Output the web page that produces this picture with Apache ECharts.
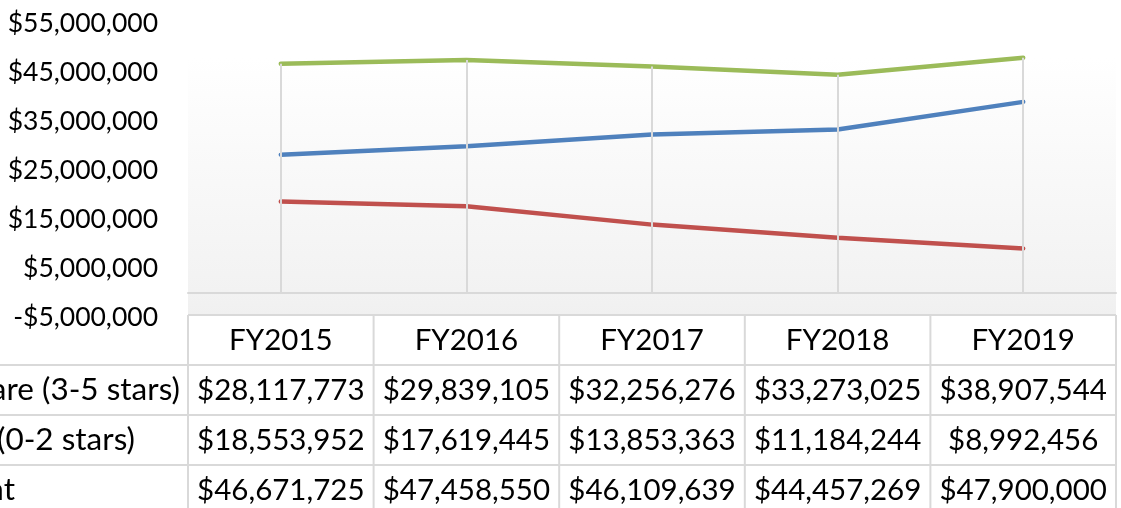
<!DOCTYPE html>
<html>
<head>
<meta charset="utf-8">
<script src="https://cdn.jsdelivr.net/npm/echarts@6/dist/echarts.min.js"></script>
<style>
  html, body { margin: 0; padding: 0; background: #fff; }
  #chart { width: 1121px; height: 508px; }
</style>
</head>
<body>
<div id="chart"></div>
<script>
var categories = ['FY2015', 'FY2016', 'FY2017', 'FY2018', 'FY2019'];
var seriesNames = ['Higher Quality Care (3-5 stars)', 'Lower Quality Care (0-2 stars)', 'Total Payment'];
var highQuality = [28117773, 29839105, 32256276, 33273025, 38907544];
var lowQuality = [18553952, 17619445, 13853363, 11184244, 8992456];
var totalPayment = [46671725, 47458550, 46109639, 44457269, 47900000];
var yMin = -5000000, yMax = 55000000, yStep = 10000000;

var colors = ['#4f81bd', '#c0504d', '#9bbb59'];
var font = 'Lato';

function money(v) {
  var s = '$' + Math.abs(v).toLocaleString('en-US');
  return v < 0 ? '-' + s : s;
}

var chart = echarts.init(document.getElementById('chart'));

// drop lines: from the axis up to the highest point of each category
var dropLines = categories.map(function (c, i) {
  var top = Math.max(highQuality[i], lowQuality[i], totalPayment[i]);
  return [{ coord: [c, 0] }, { coord: [c, top] }];
});

chart.setOption({
  animation: false,
  backgroundColor: '#ffffff',
  grid: { left: 188, right: 5, top: 23, bottom: 191 },
  xAxis: {
    type: 'category',
    data: categories,
    axisLine: { lineStyle: { color: '#d9d9d9', width: 2 } },
    axisTick: { show: false },
    axisLabel: { show: false },
    splitLine: { show: false }
  },
  yAxis: {
    type: 'value',
    min: yMin,
    max: yMax,
    interval: yStep,
    axisLine: { show: false },
    axisTick: { show: false },
    splitLine: { show: false },
    axisLabel: {
      margin: 30,
      color: '#000',
      fontFamily: font,
      fontSize: 26.5,
      formatter: money
    }
  },
  series: [
    {
      type: 'line', data: [], z: 1, silent: true,
      markLine: {
        silent: true, symbol: 'none', label: { show: false },
        lineStyle: { color: '#d9d9d9', width: 2, type: 'solid' },
        data: dropLines
      }
    },
    { name: seriesNames[0], type: 'line', data: highQuality, showSymbol: false, z: 3,
      lineStyle: { color: colors[0], width: 4.5, cap: 'round' } },
    { name: seriesNames[1], type: 'line', data: lowQuality, showSymbol: false, z: 3,
      lineStyle: { color: colors[1], width: 4.5, cap: 'round' } },
    { name: seriesNames[2], type: 'line', data: totalPayment, showSymbol: false, z: 3,
      lineStyle: { color: colors[2], width: 4.5, cap: 'round' } }
  ]
});

// plot-area background and data table
var rows = [highQuality, lowQuality, totalPayment];
var labelEnds = [180, 135, 15];
var centers = categories.map(function (c, i) { return chart.convertToPixel({ xAxisIndex: 0 }, i); });
var colW = centers[1] - centers[0];
var tableLeft = centers[0] - colW / 2;
var tableRight = centers[centers.length - 1] + colW / 2;
var tableTop = 315, rowH = 50;
var zeroY = chart.convertToPixel({ yAxisIndex: 0 }, 0);
var line = { stroke: '#d9d9d9', lineWidth: 2 };
var txt = { fill: '#000', fontFamily: font, fontSize: 29.5, verticalAlign: 'middle' };

var g = [];
g.push({
  type: 'rect', z: -10, silent: true,
  shape: { x: tableLeft, y: 57, width: tableRight - tableLeft, height: tableTop - 57 },
  style: {
    fill: new echarts.graphic.LinearGradient(0, 0, 0, 1, [
      { offset: 0, color: '#ffffff' },
      { offset: (zeroY - 57) / (tableTop - 57), color: '#f2f2f2' },
      { offset: 1, color: '#f0f0f0' }
    ])
  }
});
g.push({ type: 'rect', z: -5, shape: { x: 0, y: tableTop, width: tableRight, height: 508 - tableTop }, style: { fill: '#fff' } });
g.push({ type: 'line', shape: { x1: tableLeft, y1: tableTop, x2: tableRight, y2: tableTop }, style: line });
for (var r = 1; r <= 3; r++) {
  var y = tableTop + r * rowH;
  g.push({ type: 'line', shape: { x1: 0, y1: y, x2: tableRight, y2: y }, style: line });
}
for (var k = 0; k <= categories.length; k++) {
  var x = tableLeft + k * colW;
  g.push({ type: 'line', shape: { x1: x, y1: tableTop, x2: x, y2: 520 }, style: line });
}
categories.forEach(function (c, i) {
  g.push({ type: 'text', x: centers[i], y: tableTop + rowH / 2,
    style: Object.assign({ text: c, align: 'center' }, txt) });
  rows.forEach(function (vals, r) {
    g.push({ type: 'text', x: centers[i], y: tableTop + (r + 1.5) * rowH,
      style: Object.assign({ text: money(vals[i]), align: 'center' }, txt) });
  });
});
seriesNames.forEach(function (n, r) {
  g.push({ type: 'text', x: labelEnds[r], y: tableTop + (r + 1.5) * rowH,
    style: Object.assign({ text: n, align: 'right' }, txt, { fontSize: 31.5 }) });
});
chart.setOption({ graphic: g });
</script>
</body>
</html>
